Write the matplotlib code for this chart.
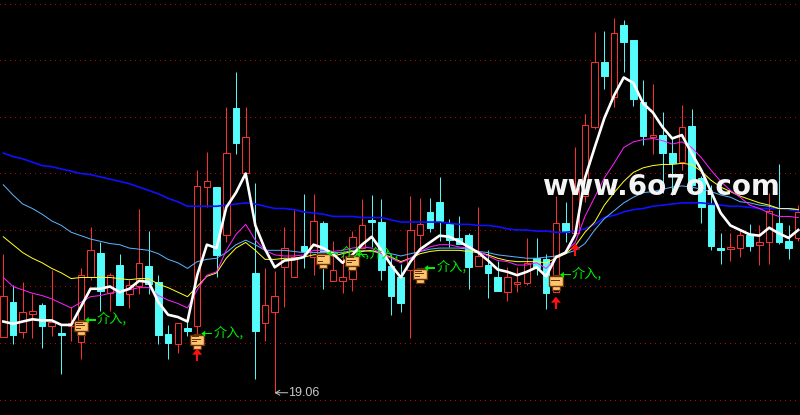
"""Candlestick chart with moving averages and signal marks, dark terminal style."""

import matplotlib

matplotlib.use("Agg")
import matplotlib.pyplot as plt
import numpy as np
from matplotlib.patches import Polygon, Rectangle
from matplotlib.transforms import Affine2D

plt.rcParams["font.family"] = ["Noto Sans CJK SC", "DejaVu Sans"]

# --- price data ----------------------------------------------------------------------
opens = [19.55,19.86,19.60,19.76,19.84,19.65,19.59,19.65,19.51,20.08,20.30,19.94,20.19,19.93,20.00,20.18,20.04,19.58,19.49,19.63,
         19.65,20.88,20.88,20.46,21.58,21.00,20.12,19.68,19.77,20.17,20.08,20.36,20.26,20.56,20.05,20.05,20.07,20.34,20.59,20.57,
         20.18,20.08,20.15,20.46,20.66,20.75,20.55,20.43,20.46,20.18,20.19,20.08,19.95,20.02,20.03,20.25,20.24,19.95,20.56,20.47,
         20.80,21.41,21.99,21.68,22.31,22.18,21.63,21.32,21.34,21.18,21.10,21.42,20.96,20.72,20.34,20.33,20.34,20.46,20.37,20.39,
         20.56,20.40,20.43]
closes = [19.92,19.57,19.77,19.78,19.65,19.69,19.57,19.68,20.10,20.32,19.96,20.10,19.84,20.01,20.21,20.02,19.57,19.50,19.68,19.61,
          20.89,20.93,20.28,21.18,21.27,21.32,19.61,19.84,19.92,20.34,20.26,20.31,20.58,20.25,20.15,20.08,20.44,20.54,20.57,20.15,
          19.92,19.85,20.50,20.55,20.52,20.58,20.41,20.38,20.17,20.27,20.12,19.96,20.08,20.04,20.21,20.16,19.94,20.56,20.48,20.87,
          21.43,21.99,21.86,22.24,22.16,21.66,21.33,21.34,21.18,21.09,21.41,20.90,20.70,20.36,20.32,20.35,20.46,20.36,20.39,20.67,
          20.39,20.34,20.66]
highs = [20.29,20.01,20.04,19.93,19.85,20.15,19.66,19.82,20.16,20.53,20.39,20.12,20.29,20.06,20.69,20.49,20.10,19.66,19.68,19.70,
         21.03,21.19,20.88,21.59,21.90,21.59,20.92,20.16,20.14,20.53,20.68,20.82,20.82,20.58,20.40,20.29,20.49,20.77,20.81,20.77,
         20.29,20.20,20.80,20.78,20.78,20.97,20.60,20.62,20.47,20.70,20.32,20.23,20.17,20.17,20.43,20.43,20.29,20.80,20.75,21.23,
         21.53,22.25,22.26,22.38,22.36,22.18,21.83,21.79,21.54,21.31,21.61,21.57,20.98,20.90,20.47,20.47,20.50,20.55,20.54,20.83,
         21.08,20.54,20.72]
lows = [19.55,19.49,19.54,19.54,19.46,19.56,19.23,19.52,19.36,20.06,19.78,19.78,19.84,19.81,19.93,19.93,19.49,19.36,19.41,19.56,
        19.57,20.70,20.08,20.39,21.17,21.00,19.18,19.52,19.06,19.82,20.08,20.16,20.10,19.98,20.05,19.94,19.96,20.34,20.35,20.06,
        19.75,19.77,19.54,20.32,20.48,20.40,20.35,20.38,19.98,20.18,19.90,19.96,19.87,19.95,20.01,20.10,19.80,19.95,20.39,20.47,
        20.75,21.39,21.75,21.59,21.90,21.60,21.25,21.17,20.83,20.81,21.03,20.85,20.56,20.32,20.20,20.23,20.26,20.31,20.19,20.20,
        20.38,20.24,20.40]

ma_white = [19.69,19.67,19.69,19.71,19.70,19.70,19.66,19.66,19.82,19.98,19.98,20.00,19.95,19.98,20.05,20.04,19.86,19.75,19.73,19.69,
            20.10,20.37,20.34,20.70,20.83,21.00,20.54,20.33,20.17,20.23,20.24,20.26,20.37,20.34,20.29,20.21,20.28,20.37,20.44,20.32,
            20.19,20.08,20.22,20.33,20.39,20.45,20.44,20.40,20.35,20.30,20.23,20.15,20.13,20.10,20.13,20.17,20.09,20.26,20.30,20.46,
            20.96,21.23,21.49,21.69,21.85,21.80,21.62,21.54,21.41,21.31,21.34,21.18,21.03,20.84,20.65,20.54,20.50,20.46,20.45,20.52,
            20.47,20.43,20.50]
ma_magenta = [20.08,20.00,19.97,19.94,19.92,19.89,19.85,19.81,19.86,19.91,19.92,19.94,19.96,19.97,19.99,19.99,19.92,19.88,19.85,19.81,
              19.97,20.10,20.13,20.32,20.46,20.55,20.41,20.32,20.28,20.27,20.27,20.28,20.32,20.32,20.31,20.32,20.34,20.35,20.34,20.29,
              20.25,20.21,20.25,20.31,20.35,20.37,20.37,20.35,20.34,20.31,20.27,20.23,20.22,20.19,20.19,20.21,20.16,20.25,20.31,20.39,
              20.62,20.79,20.96,21.09,21.23,21.28,21.30,21.31,21.29,21.26,21.28,21.23,21.14,21.03,20.93,20.85,20.79,20.72,20.69,20.65,
              20.62,20.62,20.61]
ma_yellow = [20.44,20.37,20.30,20.25,20.21,20.16,20.12,20.07,20.08,20.08,20.08,20.08,20.07,20.06,20.07,20.07,20.02,19.99,19.95,19.91,
             20.00,20.09,20.12,20.25,20.34,20.39,20.32,20.24,20.24,20.25,20.25,20.26,20.28,20.29,20.27,20.29,20.31,20.31,20.32,20.29,
             20.26,20.22,20.25,20.29,20.31,20.32,20.32,20.32,20.31,20.30,20.28,20.25,20.23,20.22,20.22,20.22,20.21,20.25,20.29,20.36,
             20.48,20.57,20.72,20.83,20.93,21.01,21.05,21.07,21.08,21.08,21.09,21.08,21.02,20.94,20.88,20.84,20.80,20.77,20.74,20.72,
             20.69,20.69,20.68]
ma_ltblue = [20.90,20.81,20.73,20.69,20.64,20.58,20.54,20.48,20.45,20.42,20.40,20.38,20.37,20.34,20.33,20.32,20.29,20.24,20.21,20.16,
             20.22,20.24,20.25,20.30,20.37,20.41,20.37,20.32,20.32,20.32,20.31,20.30,20.30,20.30,20.30,20.30,20.32,20.32,20.31,20.30,
             20.29,20.27,20.29,20.31,20.33,20.34,20.34,20.34,20.33,20.31,20.30,20.28,20.27,20.26,20.25,20.25,20.26,20.27,20.29,20.32,
             20.38,20.50,20.60,20.67,20.74,20.79,20.83,20.84,20.86,20.88,20.89,20.88,20.86,20.84,20.81,20.79,20.75,20.74,20.72,20.71,
             20.69,20.69,20.68]
ma_blue = [21.18,21.15,21.13,21.10,21.07,21.06,21.04,21.02,21.00,20.99,20.97,20.95,20.93,20.91,20.88,20.85,20.82,20.78,20.75,20.71,
           20.71,20.71,20.71,20.72,20.73,20.74,20.73,20.71,20.69,20.69,20.68,20.66,20.65,20.64,20.62,20.62,20.62,20.61,20.61,20.61,
           20.59,20.57,20.57,20.57,20.57,20.57,20.56,20.55,20.55,20.54,20.54,20.53,20.51,20.50,20.50,20.49,20.49,20.48,20.48,20.49,
           20.51,20.55,20.61,20.63,20.66,20.68,20.69,20.71,20.72,20.73,20.74,20.74,20.74,20.73,20.72,20.71,20.71,20.70,20.69,20.69,
           20.69,20.68,20.67]

# signal marks: candle index and the price the mark sits at
signal_idx = [8, 20, 33, 36, 43, 57]
signal_price = [19.65, 19.53, 20.24, 20.23, 20.11, 20.05]
signal_label = "介入,"
up_arrow_idx = [20, 57, 59]
up_arrow_price = [19.45, 19.91, 20.38]
low_idx = 28
low_price = 19.06
low_label = "19.06"
watermark = "www.6o7o.com"

grid_prices = [19.0, 19.5, 20.0, 20.5, 21.0, 21.5, 22.0, 22.5]

RED = "#ff3232"
CYAN = "#54fcfc"
W, H = 800, 415

fig = plt.figure(figsize=(W / 100, H / 100), dpi=100, facecolor="black")
ax = fig.add_axes([0, 0, 1, 1], facecolor="black")
ax.set_xlim(-0.34, 82.18)
ax.set_ylim(18.863, 22.535)
ax.axis("off")

ax.hlines(grid_prices, -0.34, 82.18, colors="#b80000", lw=0.7, linestyles=(0, (1, 4.7)), zorder=1,
          antialiased=False)

# --- candles ------------------------------------------------------------------------
bw = 0.68
for i, (o, c, h, l) in enumerate(zip(opens, closes, highs, lows)):
    top, bot = max(o, c), min(o, c)
    up = c > o
    col = RED if up else CYAN
    ax.plot([i, i], [top, h], color=col, lw=0.7, zorder=2, solid_capstyle="butt", snap=True)
    ax.plot([i, i], [bot, l], color=col, lw=0.7, zorder=2, solid_capstyle="butt", snap=True)
    ax.add_patch(Rectangle((i - bw / 2, bot), bw, top - bot, facecolor="black" if up else CYAN,
                           edgecolor=col, lw=0.7, zorder=3, snap=True))

# --- moving averages ----------------------------------------------------------------
idx = np.arange(len(opens))
ax.plot(idx, ma_blue, color="#1010ff", lw=1.2, zorder=4)
ax.plot(idx, ma_ltblue, color="#5ab4ff", lw=0.72, zorder=4)
ax.plot(idx, ma_yellow, color="#ffff20", lw=0.72, zorder=4)
ax.plot(idx, ma_magenta, color="#ff20ff", lw=0.72, zorder=4)
ax.plot(idx, ma_white, color="white", lw=1.9, zorder=5, solid_joinstyle="round")


def px_patch(patch, cx, cy):
    """Add a patch given in pixels around a display position (y upward)."""
    patch.set_transform(Affine2D().translate(cx, cy))
    ax.add_artist(patch)


fig.canvas.draw()

# --- signal icons, green arrow + label ----------------------------------------------
for i, p in zip(signal_idx, signal_price):
    cx, cy = ax.transData.transform((i, p))
    brown = "#6a3208"
    fill = "#ffc46e"
    px_patch(Rectangle((-4, -9), 8, 5, fc=fill, ec=brown, lw=0.9, zorder=7), cx, cy)
    px_patch(Rectangle((-3, 4), 6, 2, fc=fill, ec=brown, lw=0.9, zorder=7), cx, cy)
    px_patch(Rectangle((-7, -5), 14, 10, fc=fill, ec=brown, lw=1.0, zorder=8), cx, cy)
    for dy, ln in zip((2.5, 0, -2.5), (7, 9, 5)):
        px_patch(Rectangle((-5, dy), ln, 0.8, fc=brown, ec="none", zorder=9), cx, cy)
    # arrow points back at the icon
    px_patch(Rectangle((6, 5.5), 9, 1.2, fc="#00f000", ec="none", zorder=9), cx, cy)
    px_patch(Polygon([(4, 6), (8, 9), (8, 3)], closed=True, fc="#00f000", ec="none", zorder=9), cx, cy)
    ax.annotate(signal_label, (i, p), xytext=(16, 7), textcoords="offset pixels",
                color="#00f000", fontsize=9.5, fontweight="light", va="center", ha="left", zorder=9)

# --- red up arrows ------------------------------------------------------------------
for i, p in zip(up_arrow_idx, up_arrow_price):
    cx, cy = ax.transData.transform((i, p))
    px_patch(Polygon([(0, 0), (-5, -6), (5, -6)], closed=True, fc="#ff1010", ec="none", zorder=9), cx, cy)
    px_patch(Rectangle((-1, -12), 2, 7, fc="#ff1010", ec="none", zorder=9), cx, cy)

# --- low label ----------------------------------------------------------------------
ax.annotate("", (low_idx, low_price), xytext=(13, 0), textcoords="offset pixels",
            arrowprops=dict(arrowstyle="->,head_width=0.18,head_length=0.3", color="#c8c8c8", lw=0.7, shrinkA=0, shrinkB=0),
            zorder=9)
ax.annotate(low_label, (low_idx, low_price), xytext=(13, 0), textcoords="offset pixels",
            color="#c8c8c8", fontsize=9, va="center", ha="left", family="Liberation Sans", zorder=9)

# --- watermark ----------------------------------------------------------------------
ax.text(661, H - 187, watermark, transform=None, color="#f4f4f4", fontsize=20, fontweight="bold",
        family="DejaVu Sans", ha="center", va="center", zorder=10)

fig.savefig("out.png", dpi=100, facecolor="black")
